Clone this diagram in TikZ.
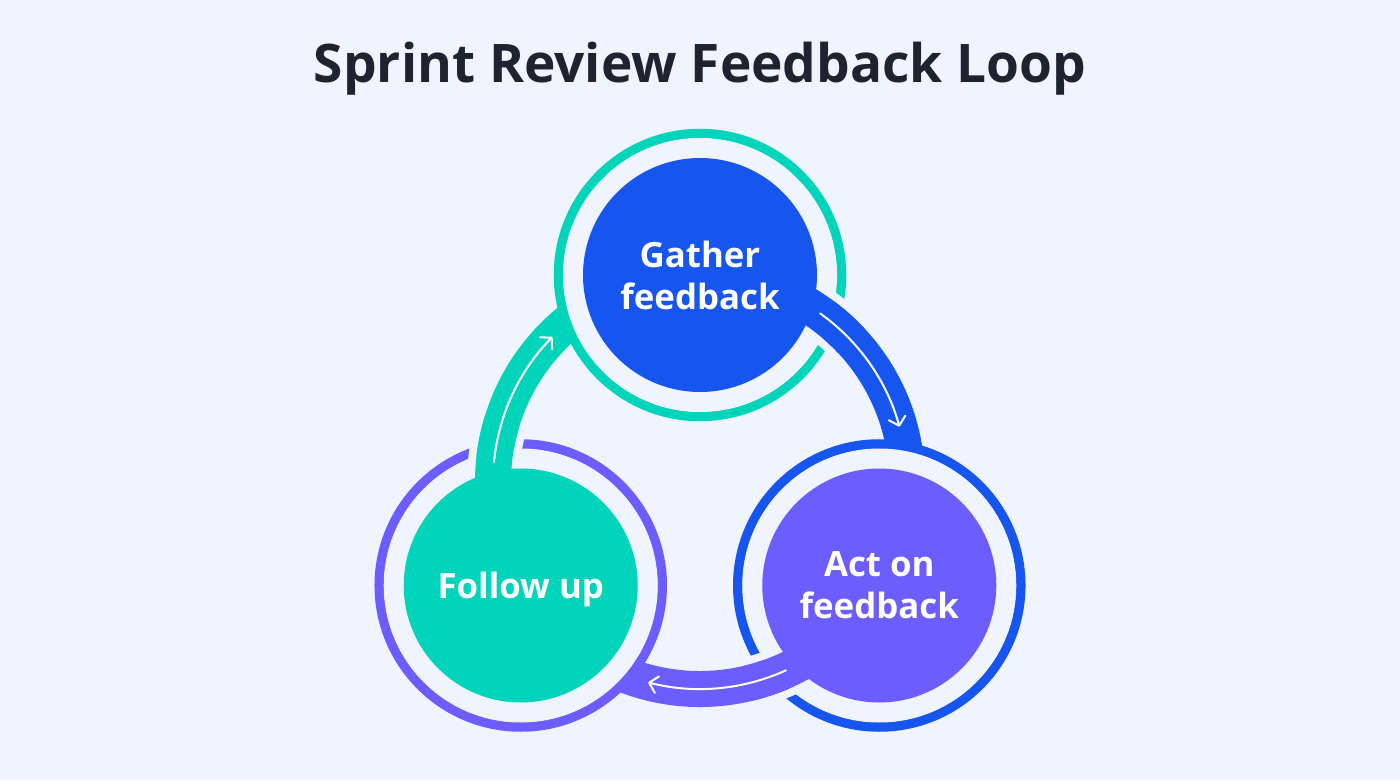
\documentclass[tikz,border=0pt]{standalone}
\usepackage{fontspec}
\setmainfont{Open Sans}
\usetikzlibrary{arrows.meta}
\definecolor{bg}{HTML}{EFF4FE}
\definecolor{ink}{HTML}{1F232D}
\definecolor{cblue}{HTML}{1756EE}
\definecolor{cteal}{HTML}{00D4BA}
\definecolor{cpurp}{HTML}{6C5DFE}
\begin{document}
\begin{tikzpicture}[x=1pt,y=1pt,
  ringline/.style={line width=9.5pt},
  bandline/.style={line width=36pt},
  cutline/.style={line width=52pt, draw=bg},
  flowline/.style={draw=white, line width=2pt, line cap=round, -{Straight Barb[length=8pt,width=17pt,round]}},
  stage/.style={circle, inner sep=0pt, minimum size=234pt, text=white, align=center,
    font=\fontsize{34.8}{42}\selectfont\bfseries, text depth=0pt},
]
\fill[bg] (0,0) rectangle (1400,780);
\useasboundingbox (0,0) rectangle (1400,780);
\node[anchor=base, text=ink, font=\fontsize{53.2}{60}\selectfont\bfseries] (title) at (700,697) {Sprint Review Feedback Loop};
\coordinate (O) at (700,298);
\path (O) ++(90:207) coordinate (pG);
\path (O) ++(-30:207) coordinate (pA);
\path (O) ++(210:207) coordinate (pF);
% rings
\draw[ringline, draw=cteal] (pG) circle[radius=141.5];
\draw[ringline, draw=cblue] (pA) circle[radius=141.5];
\draw[ringline, draw=cpurp] (pF) circle[radius=141.5];
% cuts in the source ring
\draw[cutline] (pG) arc[start angle=90, end angle=38, radius=207];
\draw[cutline] (pA) arc[start angle=-30, end angle=-82, radius=207];
\draw[cutline] (pF) arc[start angle=210, end angle=158, radius=207];
% bands
\draw[bandline, draw=cblue] (pG) arc[start angle=90, end angle=-30, radius=207];
\draw[bandline, draw=cpurp] (pA) arc[start angle=-30, end angle=-150, radius=207];
\draw[bandline, draw=cteal] (pF) arc[start angle=210, end angle=90, radius=207];
% inner gaps
\fill[bg] (pG) circle[radius=137];
\fill[bg] (pA) circle[radius=137];
\fill[bg] (pF) circle[radius=137];
% stages
\node[stage, fill=cblue] (G) at (pG) {Gather\\feedback};
\node[stage, fill=cpurp] (A) at (pA) {Act on\\feedback};
\node[stage, fill=cteal] (F) at (pF) {Follow up};
% band exits
\draw[bandline, draw=cblue] ([shift={(60:207)}]O) arc[start angle=60, end angle=43, radius=207];
\draw[bandline, draw=cpurp] ([shift={(-60:207)}]O) arc[start angle=-60, end angle=-77, radius=207];
\draw[bandline, draw=cteal] ([shift={(180:207)}]O) arc[start angle=180, end angle=163, radius=207];
% flow arrows
\draw[flowline] ([shift={(54.5:207)}]O) arc[start angle=54.5, end angle=15.5, radius=207];
\draw[flowline] ([shift={(-65.5:207)}]O) arc[start angle=-65.5, end angle=-104.5, radius=207];
\draw[flowline] ([shift={(174.5:207)}]O) arc[start angle=174.5, end angle=135.5, radius=207];
\end{tikzpicture}
\end{document}
